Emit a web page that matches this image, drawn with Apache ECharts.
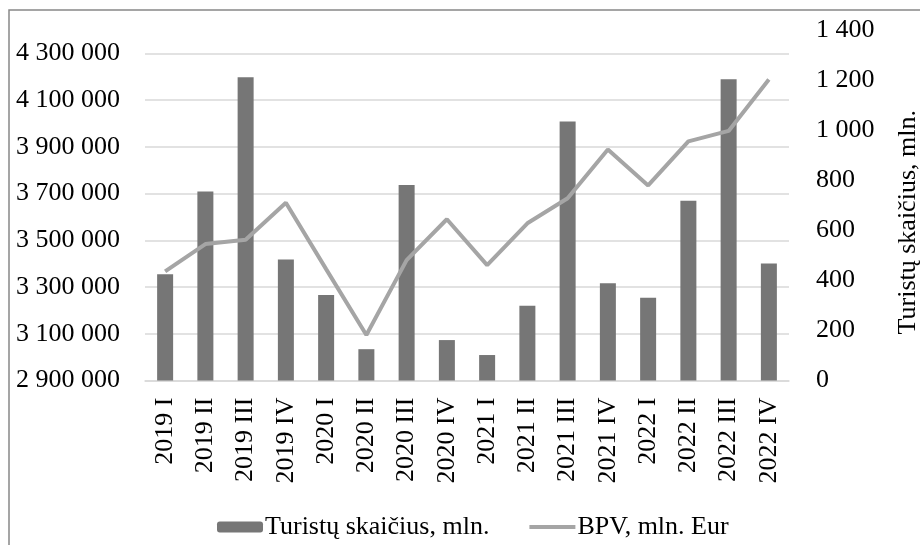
<!DOCTYPE html>
<html>
<head>
<meta charset="utf-8">
<script src="https://cdn.jsdelivr.net/npm/echarts@6/dist/echarts.min.js"></script>
<style>
    html, body { margin: 0; padding: 0; background: #fff; }
    #chart { width: 920px; height: 545px; }
</style>
</head>
<body>
<div id="chart"></div>
<script>
// quarters on the x axis
const quarters = ['2019 I', '2019 II', '2019 III', '2019 IV',
    '2020 I', '2020 II', '2020 III', '2020 IV',
    '2021 I', '2021 II', '2021 III', '2021 IV',
    '2022 I', '2022 II', '2022 III', '2022 IV'];

// bars, left axis
const turistai = [3355000, 3709000, 4198000, 3418000,
    3266000, 3034000, 3737000, 3073000,
    3009000, 3220000, 4008000, 3316000,
    3254000, 3669000, 4189000, 3401000];

// line, right axis
const bpv = [436, 545, 562, 710,
    445, 182, 481, 644,
    461, 628, 728, 923,
    779, 955, 997, 1202];

const fontFamily = 'Liberation Serif';

function spaced(v) {
    return String(v).replace(/\B(?=(\d{3})+(?!\d))/g, ' ');
}

const chart = echarts.init(document.getElementById('chart'));
const options = {
    animation: false,
    textStyle: { fontFamily: fontFamily, color: '#000' },
    graphic: [{
        type: 'rect',
        shape: { x: 9, y: 10, width: 950, height: 600 },
        style: { fill: 'none', stroke: '#888', lineWidth: 1.5 },
        silent: true
    }],
    grid: {
        left: 145,
        right: 131,
        top: 30,
        bottom: 164.5,
        outerBoundsMode: 'none',
        containLabel: false
    },
    legend: {
        left: 212,
        top: 509,
        itemWidth: 46,
        itemHeight: 11,
        itemGap: 38,
        textStyle: { fontFamily: fontFamily, fontSize: 26, color: '#000', padding: [0, 0, 0, -3] },
        data: [
            { name: 'Turistų skaičius, mln.' },
            {
                name: 'BPV, mln. Eur',
                itemStyle: { opacity: 0 },
                lineStyle: { width: 4, color: '#a5a5a5' }
            }
        ]
    },
    xAxis: {
        type: 'category',
        data: quarters,
        axisLine: { lineStyle: { color: '#d9d9d9', width: 1.5 } },
        axisTick: { show: false },
        axisLabel: {
            rotate: 90,
            margin: 17,
            fontSize: 26,
            color: '#000',
            fontFamily: fontFamily,
            interval: 0
        }
    },
    yAxis: [
        {
            type: 'value',
            min: 2900000,
            max: 4400000,
            interval: 200000,
            axisLine: { show: false },
            axisTick: { show: false },
            splitLine: {
                showMaxLine: false,
                lineStyle: { color: '#d9d9d9', width: 1.5 }
            },
            axisLabel: {
                showMaxLabel: false,
                margin: 25,
                fontSize: 26,
                color: '#000',
                fontFamily: fontFamily,
                formatter: v => spaced(v)
            }
        },
        {
            type: 'value',
            min: 0,
            max: 1400,
            interval: 200,
            position: 'right',
            axisLine: { show: false },
            axisTick: { show: false },
            splitLine: { show: false },
            axisLabel: {
                margin: 27,
                align: 'left',
                fontSize: 26,
                color: '#000',
                fontFamily: fontFamily,
                formatter: v => spaced(v)
            },
            name: 'Turistų skaičius, mln.',
            nameLocation: 'middle',
            nameRotate: 90,
            nameGap: 106,
            nameTextStyle: {
                fontSize: 26,
                color: '#000',
                fontFamily: fontFamily,
                padding: [0, 34, 0, 0]
            }
        }
    ],
    series: [
        {
            name: 'Turistų skaičius, mln.',
            type: 'bar',
            yAxisIndex: 0,
            barWidth: 16,
            itemStyle: { color: '#767676' },
            data: turistai
        },
        {
            name: 'BPV, mln. Eur',
            type: 'line',
            yAxisIndex: 1,
            symbol: 'none',
            lineStyle: { color: '#a5a5a5', width: 4 },
            itemStyle: { color: '#a5a5a5' },
            data: bpv
        }
    ]
};

chart.setOption(options);
</script>
</body>
</html>
